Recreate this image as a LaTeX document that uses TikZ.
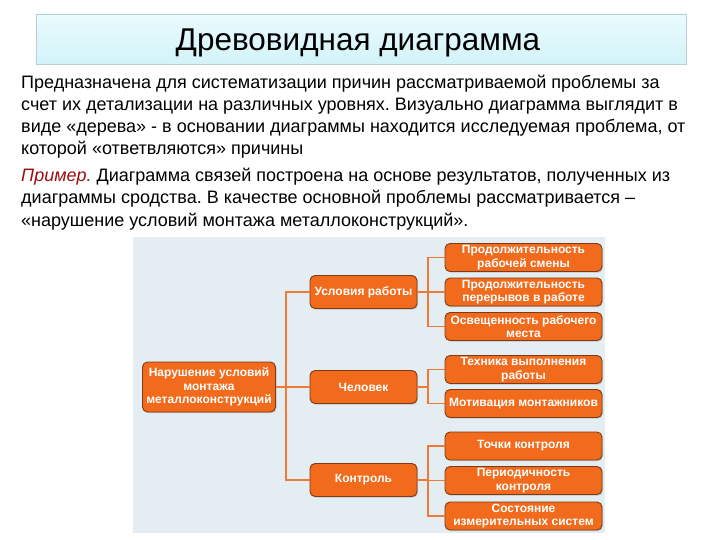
\documentclass[tikz,border=0pt]{standalone}
\usepackage{fontspec}
\setmainfont{Liberation Sans}
\usetikzlibrary{shadows}
\frenchspacing
\definecolor{orfill}{HTML}{F26A1B}
\definecolor{orline}{HTML}{EE7A35}
\definecolor{orborder}{HTML}{7E3A14}
\definecolor{diagbg}{HTML}{E4EEF2}
\definecolor{titletop}{HTML}{EAFBFE}
\definecolor{titlebot}{HTML}{D2F3F9}
\definecolor{titleborder}{HTML}{BCCCCF}
\definecolor{exred}{HTML}{9A1010}
\begin{document}
\begin{tikzpicture}[x=1pt,y=-1pt,
  box/.style={draw=orborder, line width=0.9pt, fill=orfill, rounded corners=5pt,
    text=white, font=\fontsize{12}{13.3}\selectfont\bfseries, align=center,
    inner sep=0pt, drop shadow={shadow xshift=1pt, shadow yshift=-1.2pt, opacity=0.35}},
  leaf/.style={box, minimum width=157pt, minimum height=28pt},
  mid/.style={box, minimum width=107pt, minimum height=33pt},
  txt/.style={anchor=base west, inner sep=0pt, font=\fontsize{18}{22}\selectfont},
  link/.style={draw=orline, line width=1.6pt}]
\useasboundingbox (0,0) rectangle (720,540);
\fill[white] (0,0) rectangle (720,540);
% title
\node[draw=titleborder, top color=titletop, bottom color=titlebot, line width=0.6pt,
  minimum width=650pt, minimum height=50pt, inner sep=0pt] (title) at (361,39) {};
\node[anchor=base, inner sep=0pt, font=\fontsize{31.5}{34}\selectfont] (titletext) at (358,51) {Древовидная диаграмма};
% paragraphs
\node[txt] (l1) at (21,88.5) {Предназначена для систематизации причин рассматриваемой проблемы за};
\node[txt] (l2) at (21,110.5) {счет их детализации на различных уровнях. Визуально диаграмма выглядит в};
\node[txt] (l3) at (21,132.5) {виде «дерева» - в основании диаграммы находится исследуемая проблема, от};
\node[txt] (l4) at (21,154.5) {которой «ответвляются» причины};
\node[txt] (l5) at (21,182) {\textcolor{exred}{\itshape Пример.} Диаграмма связей построена на основе результатов, полученных из};
\node[txt] (l6) at (21,204) {диаграммы сродства. В качестве основной проблемы рассматривается –};
\node[txt] (l7) at (21,226) {«нарушение условий монтажа металлоконструкций».};
% diagram background
\fill[diagbg] (133,237) rectangle (605,533);
% nodes
\node[box, minimum width=133pt, minimum height=50pt] (root) at (209,387) {Нарушение условий\\монтажа\\металлоконструкций};
\node[mid] (m1) at (363.5,292) {Условия работы};
\node[mid] (m2) at (363.5,387) {Человек};
\node[mid] (m3) at (363.5,480) {Контроль};
\node[leaf] (c1) at (523.5,257.5) {Продолжительность\\рабочей смены};
\node[leaf] (c2) at (523.5,292) {Продолжительность\\перерывов в работе};
\node[leaf] (c3) at (523.5,326.5) {Освещенность рабочего\\места};
\node[leaf] (c4) at (523.5,369.5) {Техника выполнения\\работы};
\node[leaf] (c5) at (523.5,403.5) {Мотивация монтажников};
\node[leaf] (c6) at (523.5,446) {Точки контроля};
\node[leaf] (c7) at (523.5,480.5) {Периодичность\\контроля};
\node[leaf] (c8) at (523.5,516) {Состояние\\измерительных систем};
% connectors
\coordinate (t0) at (286,387);
\coordinate (t1) at (428,292);
\coordinate (t2) at (428,387);
\coordinate (t3) at (428,480);
\draw[link] (root.east) -- (t0);
\foreach \m in {m1,m2,m3} \draw[link] (t0) |- (\m.west);
\draw[link] (m1.east) -- (t1);
\foreach \c in {c1,c2,c3} \draw[link] (t1) |- (\c.west);
\draw[link] (m2.east) -- (t2);
\foreach \c in {c4,c5} \draw[link] (t2) |- (\c.west);
\draw[link] (m3.east) -- (t3);
\foreach \c in {c6,c7,c8} \draw[link] (t3) |- (\c.west);
\end{tikzpicture}
\end{document}
